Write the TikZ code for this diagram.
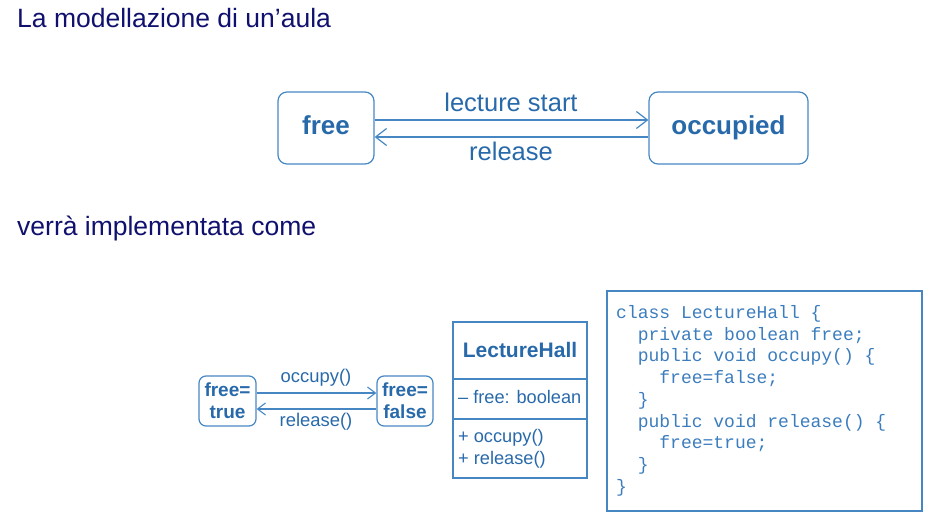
\documentclass[tikz,border=0pt]{standalone}
\usepackage{fontspec}
\setmainfont{Liberation Sans}
\setmonofont{Liberation Mono}
\usetikzlibrary{arrows.meta}
\definecolor{navy}{RGB}{16,16,110}
\definecolor{ink}{RGB}{40,105,170}
\definecolor{codeink}{RGB}{60,125,190}
\definecolor{edge}{RGB}{70,135,195}
\tikzset{
  state/.style={draw=edge, line width=1.2pt, rounded corners=9pt, text=ink, font=\bfseries, align=center, inner sep=0pt},
  trans/.style={draw=edge, line width=1.2pt, -{Straight Barb[length=11pt,width=17pt,line width=1.2pt]}},
  smalltrans/.style={draw=edge, line width=1.1pt, -{Straight Barb[length=8pt,width=12pt,line width=1.1pt]}},
  lbl/.style={text=ink, inner sep=0pt},
  heading/.style={text=navy, anchor=west, inner sep=0pt, font=\fontsize{26.5}{30}\selectfont},
  umlbox/.style={draw=edge, line width=1.1pt},
  code/.style={text=codeink, anchor=west, inner sep=0pt, font=\ttfamily\fontsize{18}{21}\selectfont}
}
\begin{document}
\begin{tikzpicture}[x=1pt,y=-1pt]
\useasboundingbox (0,0) rectangle (939,524);

% headings
\node[heading] (h1) at (17,18) {La modellazione di un’aula};
\node[heading] (h2) at (17,228) {verrà implementata come};

% conceptual state machine
\node[state, minimum width=96pt, minimum height=72pt, text height=19pt, text depth=6pt, font=\bfseries\fontsize{26}{30}\selectfont] (free) at (326,128) {free};
\node[state, minimum width=159pt, minimum height=72pt, text height=19pt, text depth=6pt, font=\bfseries\fontsize{26}{30}\selectfont] (occ) at (728.5,128) {occupied};
\draw[trans] (free.east |- 0,120) -- (occ.west |- 0,120);
\draw[trans] (occ.west |- 0,137) -- (free.east |- 0,137);
\node[lbl, font=\fontsize{25.5}{29}\selectfont] (ls) at (511,102) {lecture start};
\node[lbl, font=\fontsize{25.5}{29}\selectfont] (rl) at (511,151) {release};

% implementation state machine
\node[state, rounded corners=7pt, minimum width=57pt, minimum height=50pt, font=\bfseries\fontsize{19}{22}\selectfont] (ft) at (227.5,401) {free=\\true};
\node[state, rounded corners=7pt, minimum width=56pt, minimum height=50pt, font=\bfseries\fontsize{19}{22}\selectfont] (ff) at (405,401) {free=\\false};
\draw[smalltrans] (ft.east |- 0,393) -- (ff.west |- 0,393);
\draw[smalltrans] (ff.west |- 0,409) -- (ft.east |- 0,409);
\node[lbl, font=\fontsize{18.4}{21}\selectfont] (oc) at (316,378) {occupy()};
\node[lbl, font=\fontsize{18.4}{21}\selectfont] (re) at (316,422) {release()};

% class box
\draw[umlbox] (453,322) rectangle (587,478);
\draw[umlbox] (453,379) -- (587,379);
\draw[umlbox] (453,419) -- (587,419);
\node[lbl, font=\bfseries\fontsize{21}{24}\selectfont] (cn) at (520,350) {LectureHall};
\node[lbl, anchor=west, font=\fontsize{18.2}{21}\selectfont] (attr) at (458,397) {– free: boolean};
\node[lbl, anchor=west, font=\fontsize{18.2}{21}\selectfont] (op1) at (458,438) {+ occupy()};
\node[lbl, anchor=west, font=\fontsize{18.2}{21}\selectfont] (op2) at (458,460) {+ release()};

% source code
\draw[umlbox] (607,291) rectangle (922,511);
\node[code] (c1) at (616,314) {class LectureHall \{};
\node[code] (c2) at (616,336) {\ \ private boolean free;};
\node[code] (c3) at (616,357) {\ \ public void occupy() \{};
\node[code] (c4) at (616,379) {\ \ \ \ free=false;};
\node[code] (c5) at (616,401) {\ \ \}};
\node[code] (c6) at (616,423) {\ \ public void release() \{};
\node[code] (c7) at (616,444) {\ \ \ \ free=true;};
\node[code] (c8) at (616,466) {\ \ \}};
\node[code] (c9) at (616,488) {\}};
\end{tikzpicture}
\end{document}
